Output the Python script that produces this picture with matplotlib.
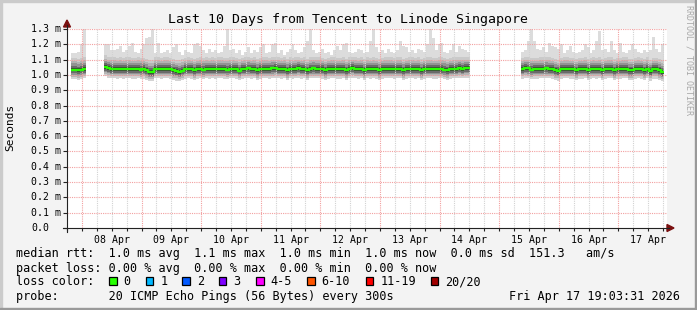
import numpy as np
import matplotlib
matplotlib.use("Agg")
import matplotlib.pyplot as plt
from matplotlib.patches import Rectangle, Polygon
from matplotlib.lines import Line2D
from matplotlib.transforms import blended_transform_factory

W, H = 697, 310
MONO = "DejaVu Sans Mono"

# time axis: day of April, one bin = 1.2 h (3 px)
start_day = 7.8167
step = 0.05
N = None

# median rtt per bin (ms), None = no data
med = [1.035, 1.035, 1.030, 1.035, 1.040, N, N, N, N, N,
       N, 1.052, 1.045, 1.040, 1.040, 1.038, 1.040, 1.038, 1.040, 1.040,
       1.038, 1.038, 1.040, 1.035, 1.038, 1.030, 1.020, 1.020, 1.040, 1.040,
       1.038, 1.040, 1.040, 1.038, 1.030, 1.025, 1.020, 1.028, 1.038, 1.040,
       1.038, 1.030, 1.038, 1.040, 1.035, 1.040, 1.038, 1.040, 1.038, 1.040,
       1.040, 1.038, 1.035, 1.040, 1.040, 1.038, 1.028, 1.038, 1.040, 1.042,
       1.038, 1.040, 1.030, 1.038, 1.040, 1.040, 1.038, 1.042, 1.045, 1.040,
       1.038, 1.040, 1.030, 1.040, 1.038, 1.040, 1.045, 1.038, 1.040, 1.030,
       1.040, 1.042, 1.040, 1.040, 1.038, 1.030, 1.038, 1.040, 1.040, 1.038,
       1.038, 1.040, 1.030, 1.040, 1.045, 1.040, 1.038, 1.040, 1.030, 1.040,
       1.038, 1.040, 1.038, 1.030, 1.038, 1.040, 1.040, 1.040, 1.038, 1.040,
       1.040, 1.030, 1.038, 1.040, 1.040, 1.038, 1.040, 1.030, 1.038, 1.040,
       1.040, 1.038, 1.038, 1.040, 1.040, 1.035, 1.030, 1.038, 1.040, 1.040,
       1.045, 1.040, 1.045, 1.045, N, N, N, N, N, N,
       N, N, N, N, N, N, N, N, N, N,
       N, 1.038, 1.045, 1.042, 1.035, 1.038, 1.038, 1.040, 1.040, 1.042,
       1.040, 1.038, 1.030, 1.025, 1.038, 1.040, 1.040, 1.038, 1.038, 1.030,
       1.038, 1.038, 1.040, 1.030, 1.038, 1.040, 1.038, 1.040, 1.030, 1.038,
       1.040, 1.040, 1.030, 1.038, 1.038, 1.040, 1.040, 1.030, 1.030, 1.038,
       1.040, 1.038, 1.030, 1.040, 1.025, 1.038, 1.038, 1.030, 1.020, N]

# slowest ping per bin (ms)
peak = [1.14, 1.14, 1.15, 1.20, 1.30, N, N, N, N, N,
        N, 1.20, 1.20, 1.16, 1.16, 1.17, 1.19, 1.15, 1.16, 1.19,
        1.21, 1.15, 1.14, 1.17, 1.20, 1.24, 1.25, 1.30, 1.14, 1.21,
        1.14, 1.15, 1.16, 1.14, 1.18, 1.20, 1.15, 1.13, 1.16, 1.15,
        1.14, 1.20, 1.21, 1.19, 1.16, 1.14, 1.17, 1.15, 1.16, 1.14,
        1.15, 1.19, 1.30, 1.16, 1.17, 1.14, 1.16, 1.13, 1.15, 1.18,
        1.14, 1.16, 1.15, 1.18, 1.20, 1.14, 1.15, 1.20, 1.21, 1.14,
        1.16, 1.13, 1.15, 1.17, 1.20, 1.16, 1.14, 1.15, 1.18, 1.22,
        1.30, 1.16, 1.14, 1.15, 1.17, 1.14, 1.15, 1.13, 1.16, 1.19,
        1.16, 1.20, 1.21, 1.15, 1.14, 1.15, 1.17, 1.16, 1.14, 1.15,
        1.22, 1.30, 1.18, 1.15, 1.16, 1.14, 1.17, 1.15, 1.14, 1.16,
        1.22, 1.19, 1.18, 1.15, 1.16, 1.14, 1.17, 1.16, 1.15, 1.20,
        1.30, 1.24, 1.16, 1.20, 1.21, 1.15, 1.14, 1.16, 1.20, 1.15,
        1.19, 1.17, 1.16, 1.15, N, N, N, N, N, N,
        N, N, N, N, N, N, N, N, N, N,
        N, 1.15, 1.16, 1.22, 1.30, 1.22, 1.17, 1.16, 1.18, 1.15,
        1.21, 1.19, 1.18, 1.17, 1.20, 1.14, 1.16, 1.19, 1.15, 1.14,
        1.15, 1.16, 1.20, 1.18, 1.14, 1.16, 1.22, 1.29, 1.16, 1.17,
        1.15, 1.22, 1.16, 1.14, 1.21, 1.15, 1.14, 1.16, 1.20, 1.17,
        1.15, 1.14, 1.16, 1.15, 1.16, 1.25, 1.17, 1.15, 1.20, N]

day_labels = ["%02d Apr" % d for d in range(8, 18)]
loss_labels = ["0", "1", "2", "3", "4-5", "6-10", "11-19", "20/20"]
loss_colors = ["#26ff00", "#00b8ff", "#0059ff", "#7e00ff", "#ff00ff",
               "#ff5500", "#ff0000", "#a10000"]

rtt_line = "median rtt:  1.0 ms avg  1.1 ms max  1.0 ms min  1.0 ms now  0.0 ms sd  151.3   am/s"
loss_line = "packet loss: 0.00 % avg  0.00 % max  0.00 % min  0.00 % now"
probe_line = "probe:       20 ICMP Echo Pings (56 Bytes) every 300s"
stamp = "Fri Apr 17 19:03:31 2026"

med_a = np.array([np.nan if v is None else v for v in med])
peak_a = np.array([np.nan if v is None else v for v in peak])


def fx(x):
    return x / W


def fy(y):
    return 1 - y / H


fig = plt.figure(figsize=(W / 100, H / 100), dpi=100, facecolor="#f3f3f3")
ax = fig.add_axes([fx(67), fy(228), 600 / W, 199 / H], facecolor="white")
for s in ax.spines.values():
    s.set_visible(False)

# smoke bands around the median (offsets in ms)
upper = [(0.0, 0.012, "#3a3a3a"), (0.012, 0.025, "#6a6a6a"),
         (0.025, 0.04, "#939393"), (0.04, 0.055, "#b3b3b3"),
         (0.055, 0.075, "#cacaca")]
lower = [(-0.012, 0.0, "#3a3a3a"), (-0.025, -0.012, "#6a6a6a"),
         (-0.035, -0.025, "#939393"), (-0.048, -0.035, "#b5b5b5"),
         (-0.062, -0.048, "#d3d3d3")]

valid = ~np.isnan(med_a)
i = 0
n = len(med_a)
while i < n:
    if not valid[i]:
        i += 1
        continue
    j = i
    while j + 1 < n and valid[j + 1]:
        j += 1
    edges = start_day + step * np.arange(i, j + 2)
    xs = np.repeat(edges, 2)[1:-1]
    m = np.repeat(med_a[i:j + 1], 2)
    p = np.repeat(peak_a[i:j + 1], 2)
    ax.fill_between(xs, np.minimum(m + 0.075, p), p, color="#dcdcdc", lw=0, zorder=2)
    for a, b, c in upper:
        ax.fill_between(xs, np.minimum(m + a, p), np.minimum(m + b, p), color=c, lw=0, zorder=2)
    for a, b, c in lower:
        ax.fill_between(xs, m + a, m + b, color=c, lw=0, zorder=2)
    ax.plot(xs, m, color="#26ff00", lw=1.7, solid_capstyle="butt", zorder=4)
    i = j + 1

# grid
end_day = start_day + 10
for q in np.arange(8.0, end_day, 0.25):
    if abs(q - round(q)) < 1e-6:
        ax.axvline(q, color="#f2a0a0", lw=0.8, ls=(0, (1, 1)), zorder=3)
    else:
        ax.axvline(q, color="#d2d2d2", lw=0.8, ls=(0, (1, 1)), zorder=3)
for v in np.arange(0.1, 1.31, 0.1):
    ax.axhline(v, color="#f2a0a0", lw=0.8, ls=(0, (1, 1)), zorder=3)

ax.set_xlim(start_day, end_day)
ax.set_ylim(0, 1.3)

ax.set_xticks(np.arange(8.5, 18, 1))
ax.set_xticklabels(day_labels, family=MONO, fontsize=7.1)
ax.set_xticks(np.arange(7.75, end_day, 0.25), minor=True)
ax.xaxis.remove_overlapping_locs = False
ax.tick_params(axis="x", which="major", length=0, pad=5)
ax.tick_params(axis="x", which="minor", length=2, width=0.8, color="#222222")

yt = np.round(np.arange(0, 1.31, 0.1), 1)
ax.set_yticks(yt)
ax.set_yticklabels([])
ax.tick_params(axis="y", length=3, width=0.8, color="#222222")
tr = blended_transform_factory(fig.transFigure, ax.transData)
for v in yt:
    lab = "0.0" if v == 0 else "%.1f m" % v
    fig.text(fx(31), v, lab, transform=tr, ha="left", va="center",
             family=MONO, fontsize=7.1)

# axes with arrows
fig.add_artist(Line2D([fx(67), fx(67)], [fy(232), fy(25)], color="#222222", lw=0.8))
fig.add_artist(Line2D([fx(63), fx(669)], [fy(228), fy(228)], color="#222222", lw=0.8))
fig.add_artist(Polygon([[fx(67), fy(20)], [fx(63.5), fy(27)], [fx(70.5), fy(27)]],
                       closed=True, color="#7a1010", transform=fig.transFigure))
fig.add_artist(Polygon([[fx(674), fy(228)], [fx(667), fy(224.5)], [fx(667), fy(231.5)]],
                       closed=True, color="#7a1010", transform=fig.transFigure))

# titles
fig.text(0.5, fy(19), "Last 10 Days from Tencent to Linode Singapore",
         ha="center", va="center", family=MONO, fontsize=9.5)
fig.text(fx(10), fy(127), "Seconds", rotation=90, ha="center", va="center",
         family=MONO, fontsize=8)
fig.text(fx(689), fy(5), "RRDTOOL / TOBI OETIKER", rotation=-90, ha="center",
         va="top", family=MONO, fontsize=6, color="#a8a8a8")

# legend
fig.text(fx(16), fy(254), rtt_line, ha="left", va="center", family=MONO, fontsize=8.5)
fig.text(fx(16), fy(268.3), loss_line, ha="left", va="center", family=MONO, fontsize=8.5)
fig.text(fx(16), fy(281.7), "loss color:", ha="left", va="center", family=MONO, fontsize=8.5)
box_x = [109, 145.7, 182.3, 218.5, 256, 307, 365.7, 430.7]
for bx, lab, c in zip(box_x, loss_labels, loss_colors):
    fig.add_artist(Rectangle((fx(bx), fy(284.5)), 7.5 / W, 7.5 / H, facecolor=c,
                             edgecolor="black", lw=0.9, transform=fig.transFigure))
    fig.text(fx(bx + 14.6), fy(281.7), lab, ha="left", va="center", family=MONO, fontsize=8.5)
fig.text(fx(16), fy(296.7), probe_line, ha="left", va="center", family=MONO, fontsize=8.5)
fig.text(fx(680), fy(296.7), stamp, ha="right", va="center", family=MONO, fontsize=8.5)

# 3d frame
fig.add_artist(Rectangle((0, fy(2)), 1, 2 / H, color="#cbcbcb", transform=fig.transFigure))
fig.add_artist(Rectangle((0, 0), 2 / W, 1, color="#cbcbcb", transform=fig.transFigure))
fig.add_artist(Rectangle((0, 0), 1, 2 / H, color="#999999", transform=fig.transFigure))
fig.add_artist(Rectangle((fx(695), 0), 2 / W, 1, color="#999999", transform=fig.transFigure))

fig.savefig("out.png", dpi=100, facecolor=fig.get_facecolor())
